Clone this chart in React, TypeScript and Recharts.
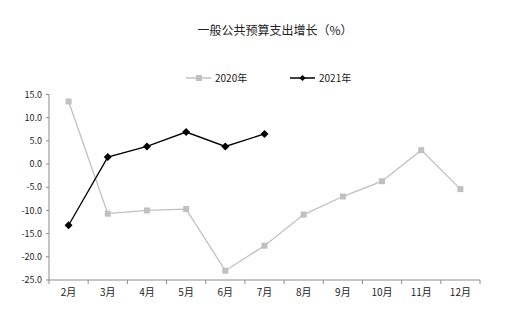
import React from "react";
import { LineChart, Line, XAxis, YAxis, Legend } from "recharts";

// 一般公共预算支出累计增长（%）
const months = ["2月", "3月", "4月", "5月", "6月", "7月", "8月", "9月", "10月", "11月", "12月"];
const growth2020 = [13.5, -10.7, -10.0, -9.7, -23.0, -17.6, -10.9, -7.0, -3.7, 3.0, -5.4];
const growth2021: (number | null)[] = [-13.2, 1.5, 3.8, 6.9, 3.8, 6.5, null, null, null, null, null];
const yTicks = [-25, -20, -15, -10, -5, 0, 5, 10, 15];

const data = months.map((m, i) => ({ month: m, y2020: growth2020[i], y2021: growth2021[i] }));

const W = 516;
const H = 316;
const PLOT_LEFT = 49;
const PLOT_RIGHT = 480;
const PLOT_TOP = 94.5;
const PLOT_BOTTOM = 280;
const XAXIS_H = 25;
const BAND = (PLOT_RIGHT - PLOT_LEFT) / months.length;
const FONT = "'Noto Sans CJK SC', 'DejaVu Sans', sans-serif";
const AXIS_COLOR = "#8c8c8c";

const SquareDot = (props: any) => {
  const { cx, cy, index } = props;
  if (cx == null || cy == null || props.value == null) return <g key={index} />;
  return <rect key={index} x={cx - 3} y={cy - 3} width={6} height={6} fill="#c0c0c0" />;
};

const DiamondDot = (props: any) => {
  const { cx, cy, index } = props;
  if (cx == null || cy == null || props.value == null) return <g key={index} />;
  const r = 4;
  return (
    <polygon
      key={index}
      points={`${cx},${cy - r} ${cx + r},${cy} ${cx},${cy + r} ${cx - r},${cy}`}
      fill="#000"
    />
  );
};

const MonthTick = (props: any) => {
  const { x, payload, index } = props;
  const left = x - BAND / 2;
  return (
    <g>
      <line x1={left} y1={PLOT_BOTTOM} x2={left} y2={PLOT_BOTTOM + 4} stroke={AXIS_COLOR} />
      {index === months.length - 1 && (
        <line x1={x + BAND / 2} y1={PLOT_BOTTOM} x2={x + BAND / 2} y2={PLOT_BOTTOM + 4} stroke={AXIS_COLOR} />
      )}
      <text x={x} y={PLOT_BOTTOM + 16} textAnchor="middle" fontSize={10} fontFamily={FONT} fill="#222">
        {payload.value}
      </text>
    </g>
  );
};

const LegendContent = () => (
  <div style={{ display: "flex", justifyContent: "flex-start", fontFamily: FONT, fontSize: 10, color: "#222" }}>
    <div style={{ position: "absolute", left: 186, display: "flex", alignItems: "center" }}>
      <svg width={26} height={10}>
        <line x1={0} y1={5} x2={25} y2={5} stroke="#c0c0c0" strokeWidth={1.5} />
        <rect x={10} y={2} width={6} height={6} fill="#c0c0c0" />
      </svg>
      <span style={{ marginLeft: 3 }}>2020年</span>
    </div>
    <div style={{ position: "absolute", left: 290, display: "flex", alignItems: "center" }}>
      <svg width={26} height={10}>
        <line x1={0} y1={5} x2={25} y2={5} stroke="#000" strokeWidth={1.5} />
        <polygon points="12.5,2 15.5,5 12.5,8 9.5,5" fill="#000" />
      </svg>
      <span style={{ marginLeft: 3 }}>2021年</span>
    </div>
  </div>
);

export default function App() {
  return (
    <div style={{ position: "absolute", left: 0, top: 0, width: W, height: H, background: "#fff" }}>
      <div
        style={{
          position: "absolute",
          top: 21,
          left: 0,
          width: W,
          textAlign: "center",
          fontFamily: FONT,
          fontSize: 12,
          color: "#222",
          paddingLeft: 34,
          boxSizing: "border-box",
        }}
      >
        一般公共预算支出增长（%）
      </div>
      <LineChart
        width={W}
        height={H}
        data={data}
        margin={{ top: PLOT_TOP, right: W - PLOT_RIGHT, bottom: H - PLOT_BOTTOM - XAXIS_H, left: 0 }}
      >
        <XAxis
          dataKey="month"
          height={XAXIS_H}
          axisLine={{ stroke: AXIS_COLOR }}
          tickLine={false}
          tick={<MonthTick />}
          interval={0}
          padding={{ left: BAND / 2, right: BAND / 2 }}
        />
        <YAxis
          width={PLOT_LEFT}
          domain={[-25, 15]}
          ticks={yTicks}
          interval={0}
          axisLine={{ stroke: AXIS_COLOR }}
          tickLine={{ stroke: AXIS_COLOR }}
          tickSize={3}
          tickMargin={4}
          tickFormatter={(v: number) => v.toFixed(1)}
          tick={{ fontSize: 9, fontFamily: FONT, fill: "#222" }}
        />
        <Legend verticalAlign="top" wrapperStyle={{ top: 70, left: 0, width: W }} content={<LegendContent />} />
        <Line
          dataKey="y2020"
          stroke="#c0c0c0"
          strokeWidth={1.3}
          dot={<SquareDot />}
          activeDot={false}
          isAnimationActive={false}
        />
        <Line
          dataKey="y2021"
          stroke="#000"
          strokeWidth={1.3}
          dot={<DiamondDot />}
          activeDot={false}
          connectNulls={false}
          isAnimationActive={false}
        />
      </LineChart>
    </div>
  );
}
